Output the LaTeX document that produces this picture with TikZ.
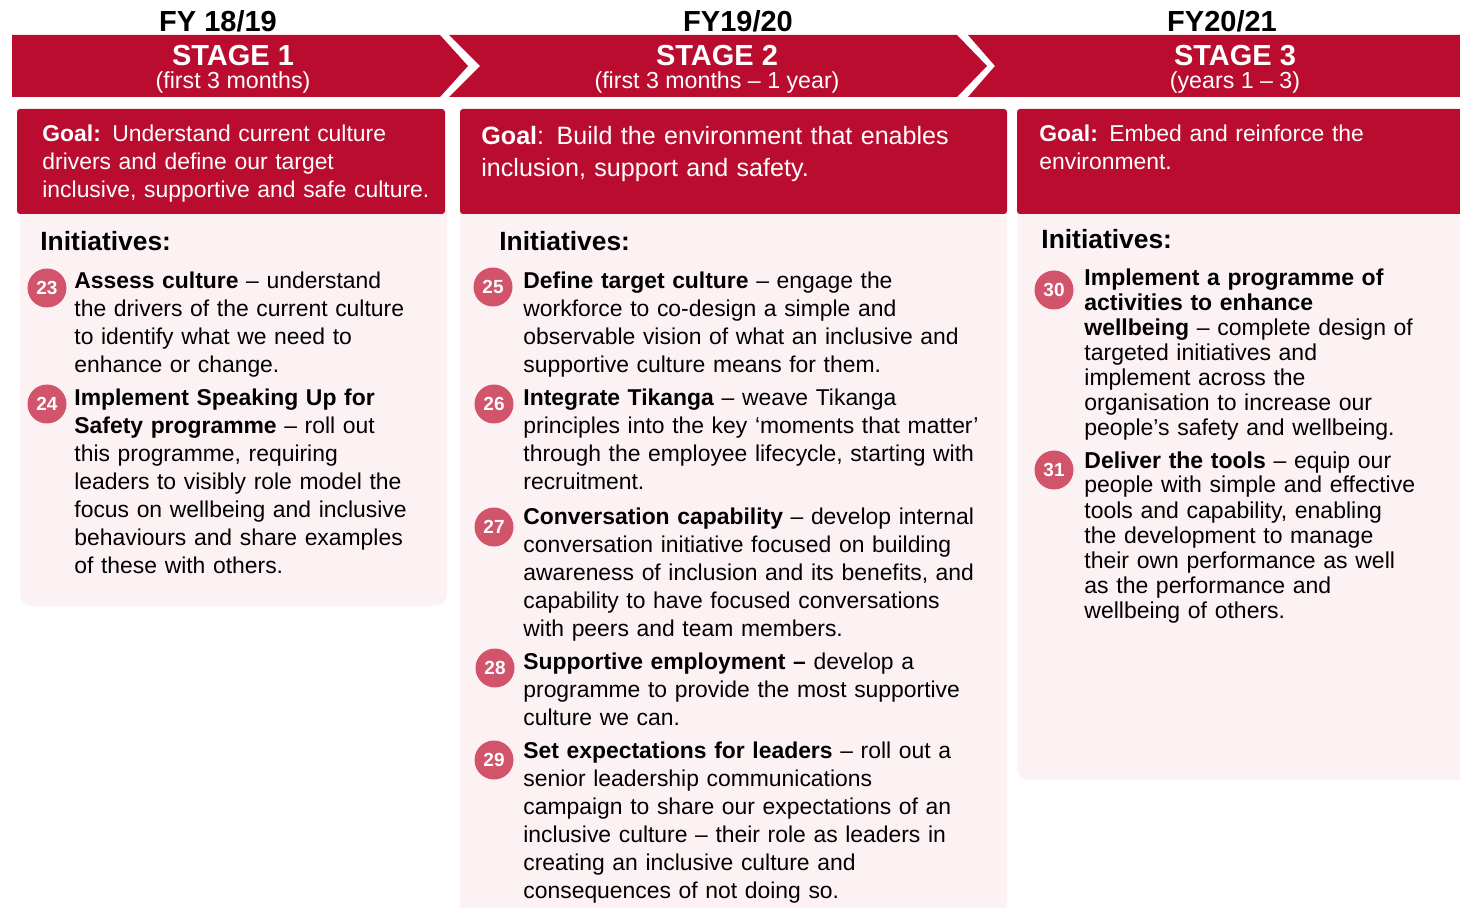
\documentclass[tikz,border=0pt]{standalone}
\usepackage{fontspec}
\setmainfont{Liberation Sans}
\usetikzlibrary{positioning}
\definecolor{StageRed}{HTML}{BA0C2F}
\definecolor{DotRose}{HTML}{D1546B}
\definecolor{Blush}{HTML}{FDF2F3}

\begin{document}
\begin{tikzpicture}[x=0.5pt,y=-0.5pt,
    fy/.style={font=\fontsize{14.5}{16}\selectfont\bfseries,anchor=base,inner sep=0pt},
    stagename/.style={font=\fontsize{14.5}{16}\selectfont\bfseries,text=white,anchor=base,inner sep=0pt},
    period/.style={font=\fontsize{11.6}{13}\selectfont,text=white,anchor=base,inner sep=0pt},
    goalbox/.style={fill=StageRed,rounded corners=1.5pt},
    panel/.style={fill=Blush,rounded corners=6pt},
    goaltext/.style={font=\fontsize{11.45}{14}\selectfont,text=white,anchor=base west,
    inner sep=0pt,text width=260pt,align=left},
    inihead/.style={font=\fontsize{13.2}{15}\selectfont\bfseries,anchor=base west,inner sep=0pt},
    item/.style={font=\fontsize{11.45}{14}\selectfont,anchor=base west,inner sep=0pt,
    text width=260pt,align=left},
    tightitem/.style={item,font=\fontsize{11.5}{12.5}\selectfont},
    numdot/.style={circle,fill=DotRose,text=white,minimum size=19.5pt,inner sep=0pt,
    font=\fontsize{9.5}{10}\selectfont\bfseries}]
  \clip (0,0) rectangle (1460,908);

  % chevron banner
  \fill[StageRed] (12,35) -- (440,35) -- (468,66) -- (440,97) -- (12,97) -- cycle;
  \fill[StageRed] (449,35) -- (957,35) -- (987,66) -- (957,97) -- (449,97) -- (480,66) -- cycle;
  \fill[StageRed] (968,35) -- (1480,35) -- (1480,97) -- (968,97) -- (995,66) -- cycle;

  % pale columns behind the initiatives
  \fill[panel] (20,200) rectangle (447,606);
  \fill[panel] (460,200) rectangle (1007,940);
  \fill[panel] (1017,200) rectangle (1490,780);

  % goal boxes
  \fill[goalbox] (17,109) rectangle (445,214);
  \fill[goalbox] (460,109) rectangle (1007,214);
  \fill[goalbox] (1017,109) rectangle (1490,214);

  % years and stages
  \node[fy] (fy1) at (218,32) {FY 18/19};
  \node[fy] (fy2) at (738,32) {FY19/20};
  \node[fy] (fy3) at (1222,32) {FY20/21};
  \node[stagename] (st1) at (233,66) {STAGE 1};
  \node[stagename] (st2) at (717,66) {STAGE 2};
  \node[stagename] (st3) at (1235,66) {STAGE 3};
  \node[period] (pd1) at (233,88.5) {(first 3 months)};
  \node[period] (pd2) at (717,88.5) {(first 3 months – 1 year)};
  \node[period] (pd3) at (1235,88.5) {(years 1 – 3)};

  % goals
  \node[goaltext] (goal1) at (42,142) {\textbf{Goal:} Understand current culture\\
    drivers and define our target\\inclusive, supportive and safe culture.};
  \node[goaltext,font=\fontsize{12.55}{16}\selectfont] (goal2) at (481,145)
    {\textbf{Goal}: Build the environment that enables\\inclusion, support and safety.};
  \node[goaltext] (goal3) at (1039,142) {\textbf{Goal:} Embed and reinforce the\\environment.};

  % stage 1 initiatives
  \node[inihead] (ini1) at (40,251) {Initiatives:};
  \node[numdot] (n23) at (47,288) {23};
  \node[item] (i23) at (74,289) {\textbf{Assess culture} – understand\\
    the drivers of the current culture\\to identify what we need to\\enhance or change.};
  \node[numdot] (n24) at (47,404) {24};
  \node[item] (i24) at (74,406) {\textbf{Implement Speaking Up for}\\
    \textbf{Safety programme} – roll out\\this programme, requiring\\
    leaders to visibly role model the\\focus on wellbeing and inclusive\\
    behaviours and share examples\\of these with others.};

  % stage 2 initiatives
  \node[inihead] (ini2) at (499,251) {Initiatives:};
  \node[numdot] (n25) at (493,287) {25};
  \node[item] (i25) at (523,289) {\textbf{Define target culture} – engage the\\
    workforce to co-design a simple and\\observable vision of what an inclusive and\\
    supportive culture means for them.};
  \node[numdot] (n26) at (494,404) {26};
  \node[item] (i26) at (523,406) {\textbf{Integrate Tikanga} – weave Tikanga\\
    principles into the key ‘moments that matter’\\
    through the employee lifecycle, starting with\\recruitment.};
  \node[numdot] (n27) at (494,527) {27};
  \node[item] (i27) at (523,524) {\textbf{Conversation capability} – develop internal\\
    conversation initiative focused on building\\
    awareness of inclusion and its benefits, and\\
    capability to have focused conversations\\with peers and team members.};
  \node[numdot] (n28) at (495,668) {28};
  \node[item] (i28) at (523,669) {\textbf{Supportive employment –} develop a\\
    programme to provide the most supportive\\culture we can.};
  \node[numdot] (n29) at (494,760) {29};
  \node[item] (i29) at (523,758) {\textbf{Set expectations for leaders} – roll out a\\
    senior leadership communications\\campaign to share our expectations of an\\
    inclusive culture – their role as leaders in\\creating an inclusive culture and\\
    consequences of not doing so.};

  % stage 3 initiatives
  \node[inihead] (ini3) at (1041,249) {Initiatives:};
  \node[numdot] (n30) at (1054,290) {30};
  \node[tightitem] (i30) at (1084,286) {\textbf{Implement a programme of}\\
    \textbf{activities to enhance}\\\textbf{wellbeing} – complete design of\\
    targeted initiatives and\\implement across the\\organisation to increase our\\
    people’s safety and wellbeing.};
  \node[numdot] (n31) at (1054,470) {31};
  \node[tightitem] (i31) at (1084,468) {\textbf{Deliver the tools} – equip our\\
    people with simple and effective\\tools and capability, enabling\\
    the development to manage\\their own performance as well\\
    as the performance and\\wellbeing of others.};
\end{tikzpicture}
\end{document}
